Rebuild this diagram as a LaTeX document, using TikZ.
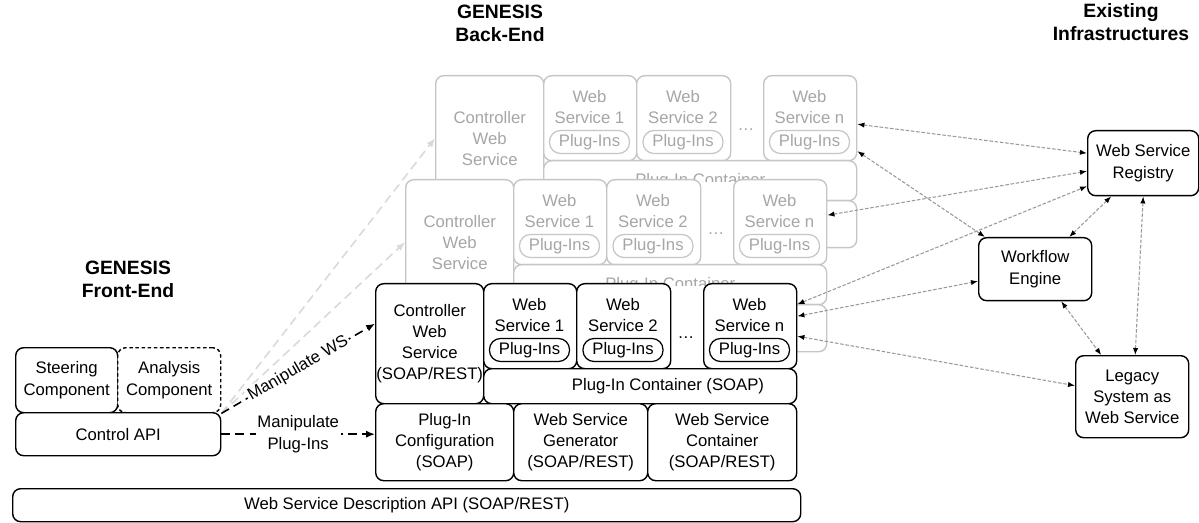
\documentclass[tikz,border=0pt]{standalone}
\usepackage{fontspec}
\setmainfont{Liberation Sans}
\usetikzlibrary{arrows.meta,calc}

\newcommand{\pxu}{0.02cm}
\tikzset{
  box/.style={draw, fill=white, rounded corners=0.16cm, line width=0.8pt, inner sep=0pt, align=center, anchor=north west},
  gbox/.style={box, draw=gray!45, text=gray!70},
  lbl/.style={align=center, inner sep=0pt},
  glbl/.style={lbl, text=gray!70},
  pill/.style={draw, fill=white, rounded corners=0.22cm, line width=0.7pt, minimum width=80*\pxu, minimum height=23*\pxu, inner sep=0pt},
  gpill/.style={pill, draw=gray!45, text=gray!70},
  title/.style={align=center, font=\fontsize{11}{13}\selectfont\bfseries},
  link/.style={gray!80, line width=0.6pt, dash pattern=on 2pt off 1pt, {Latex[black,length=4pt,width=3pt]}-{Latex[black,length=4pt,width=3pt]}},
  manip/.style={line width=0.9pt, dash pattern=on 5pt off 3pt, -{Latex[length=5pt,width=4pt]}},
  gmanip/.style={gray!30, line width=0.9pt, dash pattern=on 5pt off 3pt, -{Latex[length=5pt,width=4pt]}}
}

% one of the grey back-end copies: name prefix, x shift, y shift
\newcommand{\ghostlayer}[3]{%
  \begin{scope}[shift={(#2,#3)}]
  \fill[white] (378,286) rectangle (793,452);
  \node[gbox, minimum width=108*\pxu, minimum height=125*\pxu] (#1-ctrl) at (375,283) {Controller\\Web\\Service};
  \node[gbox, minimum width=93*\pxu, minimum height=85*\pxu] (#1-ws1) at (483,283) {};
  \node[gbox, minimum width=94*\pxu, minimum height=85*\pxu] (#1-ws2) at (576,283) {};
  \node[gbox, minimum width=93*\pxu, minimum height=85*\pxu] (#1-wsn) at (703,283) {};
  \node[glbl] at (529.5,315) {Web\\Service 1};
  \node[glbl] at (623,315) {Web\\Service 2};
  \node[glbl] at (749.5,315) {Web\\Service n};
  \node[gpill] at (529.5,350) {Plug-Ins};
  \node[gpill] at (623,350) {Plug-Ins};
  \node[gpill] at (749.5,350) {Plug-Ins};
  \node[glbl] at (686,338) {\dots};
  \node[gbox, minimum width=313*\pxu, minimum height=40*\pxu] (#1-pic) at (483,368) {Plug-In Container};
  \node[gbox, minimum width=138*\pxu, minimum height=47*\pxu] (#1-cfg) at (375,408) {};
  \node[gbox, minimum width=134*\pxu, minimum height=47*\pxu] (#1-gen) at (513,408) {};
  \node[gbox, minimum width=149*\pxu, minimum height=47*\pxu] (#1-wsc) at (647,408) {};
  \end{scope}}

\begin{document}
\begin{tikzpicture}[x=\pxu, y=-\pxu, font=\fontsize{9.5}{12}\selectfont]
\useasboundingbox (0,0) rectangle (1199,523);

% titles
\node[title] (fe-title) at (128,279) {GENESIS\\Front-End};
\node[title] (be-title) at (500,23) {GENESIS\\Back-End};
\node[title] (inf-title) at (1121,22) {Existing\\Infrastructures};

% front-end
\node[box, minimum width=102*\pxu, minimum height=65*\pxu] (steer) at (15,347) {Steering\\Component};
\node[box, dash pattern=on 2pt off 1.5pt, minimum width=103*\pxu, minimum height=65*\pxu] (anl) at (117,347) {Analysis\\Component};
\node[box, minimum width=205*\pxu, minimum height=43*\pxu] (ctl) at (15,412) {Control API};

% back-end, grey copies behind
\ghostlayer{top}{60}{-208}
\ghostlayer{mid}{30}{-104}
\draw[gmanip] (anl.south east) -- (top-ctrl.west);
\draw[gmanip] (anl.south east) -- (mid-ctrl.west);

% back-end, front copy
\fill[white] (378,286) rectangle (793,477);
\node[box, minimum width=108*\pxu, minimum height=120*\pxu] (ctrl) at (375,283) {Controller\\Web\\Service\\(SOAP/REST)};
\node[box, minimum width=93*\pxu, minimum height=85*\pxu] (ws1) at (483,283) {};
\node[box, minimum width=94*\pxu, minimum height=85*\pxu] (ws2) at (576,283) {};
\node[box, minimum width=93*\pxu, minimum height=85*\pxu] (wsn) at (703,283) {};
\node[lbl] (ws1-txt) at (529.5,315) {Web\\Service 1};
\node[lbl] (ws2-txt) at (623,315) {Web\\Service 2};
\node[lbl] (wsn-txt) at (749.5,315) {Web\\Service n};
\node[pill] (pl1) at (529.5,350) {Plug-Ins};
\node[pill] (pl2) at (623,350) {Plug-Ins};
\node[pill] (pln) at (749.5,350) {Plug-Ins};
\node[lbl] (dots) at (686,338) {\dots};
\node[box, minimum width=313*\pxu, minimum height=35*\pxu] (pic) at (483,368) {};
\node[lbl] (pic-txt) at (668,386) {Plug-In Container (SOAP)};
\node[box, minimum width=138*\pxu, minimum height=77*\pxu] (cfg) at (375,403) {Plug-In\\Configuration\\(SOAP)};
\node[box, minimum width=134*\pxu, minimum height=77*\pxu] (gen) at (513,403) {Web Service\\Generator\\(SOAP/REST)};
\node[box, minimum width=149*\pxu, minimum height=77*\pxu] (wsc) at (647,403) {Web Service\\Container\\(SOAP/REST)};
\node[box, minimum width=788*\pxu, minimum height=33*\pxu] (wsd) at (12,488) {Web Service Description API (SOAP/REST)};

% front-end to back-end
\draw[manip] (anl.south east) -- node[sloped, fill=white, inner sep=1pt] {Manipulate WS} ($(ctrl.west)+(0,-20)$);
\draw[manip] (ctl.east) -- node[fill=white, align=center, inner sep=1pt] {Manipulate\\Plug-Ins} (ctl.east -| cfg.west);

% existing infrastructures
\node[box, minimum width=111*\pxu, minimum height=65*\pxu] (reg) at (1087,130) {Web Service\\Registry};
\node[box, minimum width=113*\pxu, minimum height=63*\pxu] (wf) at (978,237) {Workflow\\Engine};
\node[box, minimum width=113*\pxu, minimum height=82*\pxu] (leg) at (1075,355) {Legacy\\System as\\Web Service};

\draw[link] ($(top-wsn.east)+(0,6)$) -- ($(reg.west)+(0,-10)$);
\draw[link] ($(top-wsn.east)+(0,33)$) -- ($(wf.north west)+(7,0)$);
\draw[link] ($(mid-wsn.east)+(0,-7)$) -- ($(reg.west)+(0,8)$);
\draw[link] ($(wsn.east)+(0,-22)$) -- ($(reg.west)+(0,23)$);
\draw[link] ($(wsn.east)+(0,-10)$) -- ($(wf.west)+(0,12)$);
\draw[link] ($(wsn.east)+(0,10)$) -- ($(leg.west)+(0,-11)$);
\draw[link] ($(reg.south)+(-32,0)$) -- ($(wf.north)+(34,0)$);
\draw[link] ($(wf.south)+(26,0)$) -- ($(leg.north)+(-31,0)$);
\draw[link] (reg.south) -- ($(leg.north)+(3,0)$);
\end{tikzpicture}
\end{document}
